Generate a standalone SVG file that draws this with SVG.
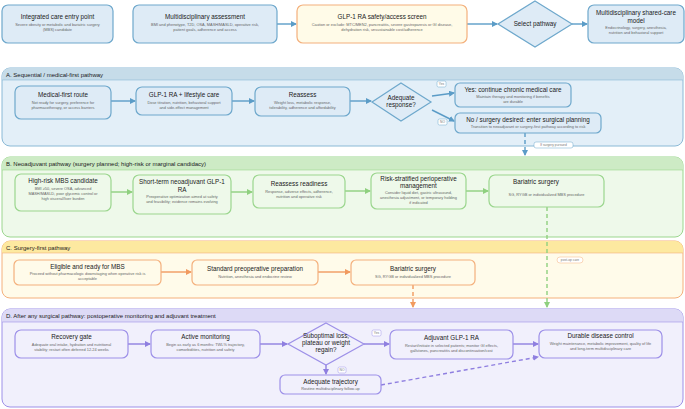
<svg xmlns="http://www.w3.org/2000/svg" width="685" height="409" viewBox="0 0 685 409">
<defs>
<style>
text{font-family:"Liberation Sans",Arial,sans-serif;text-anchor:middle}
.t{font-size:6.3px;fill:#1a1a1a}
.s{font-size:3.9px;fill:#666}
.h{font-size:6px;fill:#1a1a1a;text-anchor:start}
.tag{font-size:3.3px;fill:#777}
.b{fill:#deebf6;stroke:#6ea8cc;stroke-width:1.2}
.g{fill:#eef9ea;stroke:#9bd68e;stroke-width:1.2}
.o{fill:#fffbea;stroke:#f4b07c;stroke-width:1.2}
.p{fill:#f1f0fc;stroke:#9d90e8;stroke-width:1.2}
.la{stroke:#5b9cc7;stroke-width:1.4;fill:none}
.lg{stroke:#8fd07f;stroke-width:1.4;fill:none}
.lo{stroke:#f19a5f;stroke-width:1.4;fill:none}
.lp{stroke:#8f7fe0;stroke-width:1.4;fill:none}
.d{stroke-dasharray:4 3}
</style>
<marker id="ma" markerWidth="6" markerHeight="6" refX="5" refY="3" orient="auto" markerUnits="userSpaceOnUse"><path d="M0,0L6,3L0,6z" fill="#5b9cc7"/></marker>
<marker id="mg" markerWidth="6" markerHeight="6" refX="5" refY="3" orient="auto" markerUnits="userSpaceOnUse"><path d="M0,0L6,3L0,6z" fill="#8fd07f"/></marker>
<marker id="mo" markerWidth="6" markerHeight="6" refX="5" refY="3" orient="auto" markerUnits="userSpaceOnUse"><path d="M0,0L6,3L0,6z" fill="#f19a5f"/></marker>
<marker id="mp" markerWidth="6" markerHeight="6" refX="5" refY="3" orient="auto" markerUnits="userSpaceOnUse"><path d="M0,0L6,3L0,6z" fill="#8f7fe0"/></marker>
</defs>
<rect width="685" height="409" fill="#fff"/>

<!-- sections -->
<g id="secA"><rect x="2" y="68" width="681" height="78" rx="8" fill="#e3eff8" stroke="#8ab9d6"/><path d="M2,80V76a8,8 0 0 1 8-8H675a8,8 0 0 1 8,8V80z" fill="#c6dce9"/><line x1="2" y1="80" x2="683" y2="80" stroke="#8ab9d6" stroke-width="0.6"/><text class="h" x="6" y="77">A. Sequential / medical-first pathway</text></g>
<g id="secB"><rect x="2" y="157" width="681" height="80" rx="8" fill="#eef9ea" stroke="#9bd68e"/><path d="M2,170V165a8,8 0 0 1 8-8H675a8,8 0 0 1 8,8V170z" fill="#cdebc5"/><line x1="2" y1="170" x2="683" y2="170" stroke="#9bd68e" stroke-width="0.6"/><text class="h" x="6" y="166">B. Neoadjuvant pathway (surgery planned; high-risk or marginal candidacy)</text></g>
<g id="secC"><rect x="2" y="241" width="681" height="57" rx="8" fill="#fffbea" stroke="#f4b07c"/><path d="M2,253V249a8,8 0 0 1 8-8H675a8,8 0 0 1 8,8V253z" fill="#fde9a0"/><line x1="2" y1="253" x2="683" y2="253" stroke="#f4b07c" stroke-width="0.6"/><text class="h" x="6" y="250">C. Surgery-first pathway</text></g>
<g id="secD"><rect x="2" y="309" width="681" height="98" rx="8" fill="#f1f0fc" stroke="#9d90e8"/><path d="M2,322V317a8,8 0 0 1 8-8H675a8,8 0 0 1 8,8V322z" fill="#dddaf6"/><line x1="2" y1="322" x2="683" y2="322" stroke="#9d90e8" stroke-width="0.6"/><text class="h" x="6" y="318">D. After any surgical pathway: postoperative monitoring and adjuvant treatment</text></g>

<!-- connectors -->
<g id="connectors">
<line class="la" x1="277" y1="24" x2="296" y2="24" marker-end="url(#ma)"/>
<line class="la" x1="467" y1="24" x2="497" y2="24" marker-end="url(#ma)"/>
<line class="la" x1="572" y1="24" x2="587" y2="24" marker-end="url(#ma)"/>
<line class="la" x1="111" y1="101" x2="135" y2="101" marker-end="url(#ma)"/>
<line class="la" x1="232" y1="101" x2="254" y2="101" marker-end="url(#ma)"/>
<line class="la" x1="350" y1="101" x2="371" y2="101" marker-end="url(#ma)"/>
<line class="la" x1="432" y1="96" x2="454" y2="93" marker-end="url(#ma)"/>
<line class="la" x1="432" y1="110" x2="454" y2="121" marker-end="url(#ma)"/>
<line class="la d" x1="525" y1="133" x2="525" y2="155" marker-end="url(#ma)"/>
<line class="lg" x1="111" y1="192" x2="132" y2="192" marker-end="url(#mg)"/>
<line class="lg" x1="231" y1="192" x2="252" y2="192" marker-end="url(#mg)"/>
<line class="lg" x1="345" y1="191" x2="370" y2="191" marker-end="url(#mg)"/>
<line class="lg" x1="466" y1="191" x2="488" y2="191" marker-end="url(#mg)"/>
<line class="lg d" x1="547" y1="207" x2="547" y2="307" marker-end="url(#mg)"/>
<line class="lo" x1="161" y1="272" x2="191" y2="272" marker-end="url(#mo)"/>
<line class="lo" x1="318" y1="272" x2="350" y2="272" marker-end="url(#mo)"/>
<line class="lo d" x1="413" y1="285" x2="413" y2="307" marker-end="url(#mo)"/>
<line class="lp" x1="128" y1="344" x2="150" y2="344" marker-end="url(#mp)"/>
<line class="lp" x1="260" y1="344" x2="287" y2="344" marker-end="url(#mp)"/>
<line class="lp" x1="364" y1="344" x2="389" y2="344" marker-end="url(#mp)"/>
<line class="lp" x1="513" y1="344" x2="538" y2="344" marker-end="url(#mp)"/>
<line class="lp" x1="326" y1="364" x2="326" y2="374" marker-end="url(#mp)"/>
<line class="lp d" x1="381" y1="385" x2="538" y2="357" marker-end="url(#mp)"/>
</g>

<!-- tags -->
<g id="tags">
<rect x="437" y="81" width="9" height="6" rx="1.5" fill="#fff" stroke="#6ea8cc" stroke-width="0.5"/><text class="tag" x="441.5" y="85.3">Yes</text>
<rect x="438" y="119" width="9" height="6" rx="1.5" fill="#fff" stroke="#6ea8cc" stroke-width="0.5"/><text class="tag" x="442.5" y="123.3">NO</text>
<rect x="534" y="142" width="39" height="6" rx="2" fill="#fff" stroke="#6ea8cc" stroke-width="0.5"/><text class="tag" x="553.5" y="146.2">If surgery pursued</text>
<rect x="557" y="257" width="26" height="6" rx="3" fill="#fff" stroke="#f4b07c" stroke-width="0.5"/><text class="tag" x="570" y="261.2">post-op care</text>
<rect x="372" y="330" width="9" height="6" rx="1.5" fill="#fff" stroke="#9d90e8" stroke-width="0.5"/><text class="tag" x="376.5" y="334.3">Yes</text>
<rect x="338" y="367" width="8" height="6" rx="1.5" fill="#fff" stroke="#9d90e8" stroke-width="0.5"/><text class="tag" x="342" y="371.3">NO</text>
</g>

<!-- top row -->
<g id="entry"><rect class="b" x="2" y="5" width="111" height="38" rx="6"/><text class="t" x="57.5" y="19">Integrated care entry point</text><text class="s" x="57.5" y="26">Severe obesity or metabolic and bariatric surgery</text><text class="s" x="57.5" y="31">(MBS) candidate</text></g>
<g id="assess"><rect class="b" x="133" y="5" width="144" height="38" rx="6"/><text class="t" x="205" y="19">Multidisciplinary assessment</text><text class="s" x="205" y="26">BMI and phenotype, T2D, OSA, MASH/MASLD, operative risk,</text><text class="s" x="205" y="31">patient goals, adherence and access</text></g>
<g id="screen"><rect x="297" y="5" width="170" height="38" rx="6" fill="#fffbe8" stroke="#f4b07c" stroke-width="1.2"/><text class="t" x="382" y="19">GLP-1 RA safety/access screen</text><text class="s" x="382" y="26">Caution or exclude: MTC/MEN2, pancreatitis, severe gastroparesis or GI disease,</text><text class="s" x="382" y="31">dehydration risk, unsustainable cost/adherence</text></g>
<g id="select"><path class="b" d="M535,1L572,24L535,47L498,24z"/><text class="t" x="535" y="26">Select pathway</text></g>
<g id="shared"><rect class="b" x="588" y="5" width="96" height="38" rx="6"/><text class="t" x="636" y="15">Multidisciplinary shared-care</text><text class="t" x="636" y="23">model</text><text class="s" x="636" y="29">Endocrinology, surgery, anesthesia,</text><text class="s" x="636" y="34">nutrition and behavioral support</text></g>

<!-- A -->
<g id="medfirst"><rect class="b" x="15" y="86" width="96" height="33" rx="6"/><text class="t" x="63" y="97">Medical-first route</text><text class="s" x="63" y="103.5">Not ready for surgery, preference for</text><text class="s" x="63" y="108.5">pharmacotherapy, or access barriers</text></g>
<g id="glplife"><rect class="b" x="136" y="87" width="96" height="28" rx="6"/><text class="t" x="184" y="97">GLP-1 RA + lifestyle care</text><text class="s" x="184" y="103.5">Dose titration, nutrition, behavioral support</text><text class="s" x="184" y="108.5">and side-effect management</text></g>
<g id="reassess"><rect class="b" x="255" y="87" width="95" height="29" rx="6"/><text class="t" x="302.5" y="97">Reassess</text><text class="s" x="302.5" y="103.5">Weight loss, metabolic response,</text><text class="s" x="302.5" y="108.5">tolerability, adherence and affordability</text></g>
<g id="adequate"><path class="b" d="M401,83L431,102L401,121L372,102z"/><text class="t" x="401" y="100">Adequate</text><text class="t" x="401" y="107">response?</text></g>
<g id="yesA"><rect class="b" x="455" y="83" width="116" height="24" rx="5"/><text class="t" x="513" y="92">Yes: continue chronic medical care</text><text class="s" x="513" y="98">Maintain therapy and monitoring if benefits</text><text class="s" x="513" y="102.5">are durable</text></g>
<g id="noA"><rect class="b" x="455" y="113" width="146" height="20" rx="5"/><text class="t" x="528" y="121.5">No / surgery desired: enter surgical planning</text><text class="s" x="528" y="128">Transition to neoadjuvant or surgery-first pathway according to risk</text></g>

<!-- B -->
<g id="highrisk"><rect class="g" x="15" y="174" width="96" height="37" rx="6"/><text class="t" x="63" y="183">High-risk MBS candidate</text><text class="s" x="63" y="190">BMI ≥50, severe OSA, advanced</text><text class="s" x="63" y="195">MASH/MASLD, poor glycemic control or</text><text class="s" x="63" y="200">high visceral/liver burden</text></g>
<g id="neoadj"><rect class="g" x="133" y="175" width="98" height="39" rx="6"/><text class="t" x="182" y="184">Short-term neoadjuvant GLP-1</text><text class="t" x="182" y="191.5">RA</text><text class="s" x="182" y="198">Preoperative optimization aimed at safety</text><text class="s" x="182" y="203">and feasibility; evidence remains evolving</text></g>
<g id="readiness"><rect class="g" x="253" y="175" width="92" height="33" rx="6"/><text class="t" x="299" y="186">Reassess readiness</text><text class="s" x="299" y="192.5">Response, adverse effects, adherence,</text><text class="s" x="299" y="197.5">nutrition and operative risk</text></g>
<g id="periop"><rect class="g" x="371" y="173" width="95" height="36" rx="6"/><text class="t" x="418.5" y="181">Risk-stratified perioperative</text><text class="t" x="418.5" y="188">management</text><text class="s" x="418.5" y="194">Consider liquid diet, gastric ultrasound,</text><text class="s" x="418.5" y="199">anesthesia adjustment, or temporary holding</text><text class="s" x="418.5" y="204">if indicated</text></g>
<g id="bariB"><rect class="g" x="489" y="175" width="115" height="32" rx="6"/><text class="t" x="536" y="184">Bariatric surgery</text><text class="s" x="546.5" y="196">SG, RYGB or individualized MBS procedure</text></g>

<!-- C -->
<g id="eligible"><rect class="o" x="14" y="260" width="147" height="25" rx="5"/><text class="t" x="87.5" y="269">Eligible and ready for MBS</text><text class="s" x="87.5" y="275">Proceed without pharmacologic downstaging when operative risk is</text><text class="s" x="87.5" y="280">acceptable</text></g>
<g id="standard"><rect class="o" x="192" y="260" width="126" height="25" rx="5"/><text class="t" x="255" y="271">Standard preoperative preparation</text><text class="s" x="255" y="277.5">Nutrition, anesthesia and endocrine review</text></g>
<g id="bariC"><rect class="o" x="351" y="260" width="124" height="25" rx="5"/><text class="t" x="413" y="271">Bariatric surgery</text><text class="s" x="413" y="277.5">SG, RYGB or individualized MBS procedure</text></g>

<!-- D -->
<g id="recovery"><rect class="p" x="15" y="330" width="113" height="28" rx="6"/><text class="t" x="71.5" y="339">Recovery gate</text><text class="s" x="71.5" y="345.5">Adequate oral intake, hydration and nutritional</text><text class="s" x="71.5" y="350.5">stability; restart often deferred 12-24 weeks</text></g>
<g id="monitor"><rect class="p" x="151" y="330" width="109" height="28" rx="6"/><text class="t" x="205.5" y="339">Active monitoring</text><text class="s" x="205.5" y="345.5">Begin as early as 6 months: TWL% trajectory,</text><text class="s" x="205.5" y="350.5">comorbidities, nutrition and safety</text></g>
<g id="subopt"><path class="p" d="M326,323L364,344L326,365L288,344z"/><text class="t" x="326" y="338">Suboptimal loss,</text><text class="t" x="326" y="345">plateau or weight</text><text class="t" x="326" y="352">regain?</text></g>
<g id="trajectory"><rect class="p" x="280" y="375" width="101" height="19" rx="5"/><text class="t" x="330.5" y="383.5">Adequate trajectory</text><text class="s" x="330.5" y="389.5">Routine multidisciplinary follow-up</text></g>
<g id="adjuvant"><rect class="p" x="390" y="330" width="123" height="29" rx="6"/><text class="t" x="451.5" y="340">Adjuvant GLP-1 RA</text><text class="s" x="451.5" y="346.5">Restart/initiate in selected patients; monitor GI effects,</text><text class="s" x="451.5" y="351.5">gallstones, pancreatitis and discontinuation/cost</text></g>
<g id="durable"><rect class="p" x="539" y="330" width="123" height="28" rx="6"/><text class="t" x="600.5" y="338">Durable disease control</text><text class="s" x="600.5" y="345">Weight maintenance, metabolic improvement, quality of life</text><text class="s" x="600.5" y="350">and long-term multidisciplinary care</text></g>
</svg>
